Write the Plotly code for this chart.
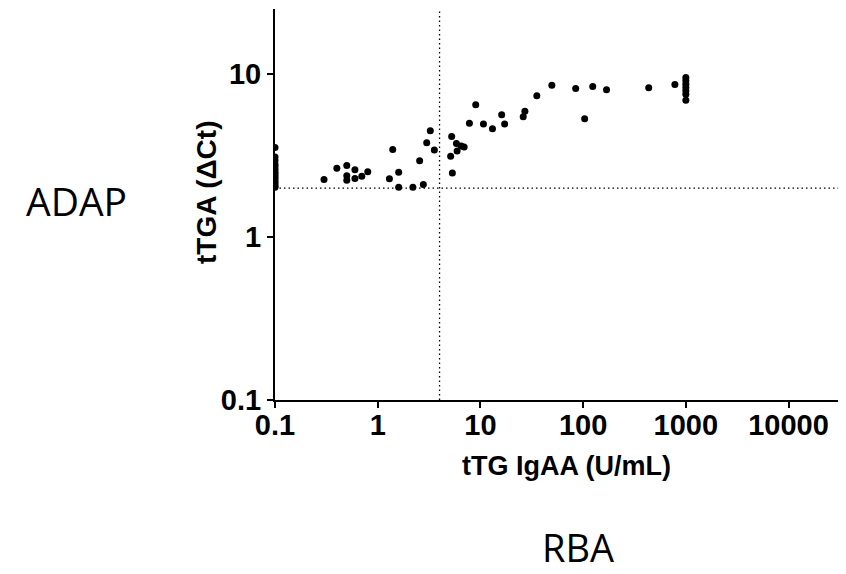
import plotly.graph_objects as go

# tTG IgAA (U/mL) values and tTGA (ΔCt) values
ttg_iga = [0.1, 0.1, 0.1, 0.1, 0.1, 0.1, 0.1, 0.1, 0.1, 0.1, 0.1, 0.1, 0.1, 0.1,
           0.3, 0.4, 0.5, 0.5, 0.5, 0.6, 0.6, 0.7, 0.8, 1.3, 1.4, 1.6, 1.6, 2.2,
           2.56, 2.78, 3.0, 3.25, 3.56, 5.25, 5.13, 5.33, 5.84, 5.93, 6.49, 6.94,
           7.81, 9.0, 10.7, 13.1, 16.1, 17.2, 26.1, 27.1, 35.4, 49.6, 84.6, 103.5,
           124, 169, 435, 782, 1000, 1000, 1000, 1000, 1000, 1000, 1000]
ttga_dct = [3.55, 3.1, 2.95, 2.8, 2.7, 2.6, 2.5, 2.42, 2.35, 2.28, 2.2, 2.13, 2.06, 2.02,
            2.26, 2.65, 2.75, 2.38, 2.23, 2.59, 2.29, 2.36, 2.52, 2.28, 3.45, 2.5, 2.02, 2.02,
            2.94, 2.1, 3.79, 4.49, 3.42, 4.15, 3.13, 2.47, 3.76, 3.37, 3.62, 3.57,
            5.0, 6.48, 4.94, 4.62, 5.63, 4.94, 5.47, 5.93, 7.36, 8.56, 8.17, 5.32,
            8.41, 8.01, 8.24, 8.65, 9.55, 9.1, 8.68, 8.29, 7.9, 7.54, 6.92]

x_cutoff = 4
y_cutoff = 2

x_range_log = [-1, 4.53]
y_range_log = [-1, 1.4]

x_tickvals = [0.1, 1, 10, 100, 1000, 10000]
x_ticktext = ["0.1", "1", "10", "100", "1000", "10000"]
y_tickvals = [0.1, 1, 10]
y_ticktext = ["0.1", "1", "10"]

x_title = "tTG IgAA (U/mL)"
y_title = "tTGA (ΔCt)"
left_label = "ADAP"
bottom_label = "RBA"

axis_font = dict(family="Liberation Sans, Arial, sans-serif", size=29, color="black")
title_font = dict(family="Liberation Sans, Arial, sans-serif", size=27, color="black")
ytitle_font = dict(family="Liberation Sans, Arial, sans-serif", size=28, color="black")
label_font = dict(family="Open Sans, sans-serif", size=39, color="black")
bottom_label_font = dict(family="Open Sans, sans-serif", size=38, color="black")

fig = go.Figure()

# reference lines
fig.add_trace(go.Scatter(
    x=[x_cutoff, x_cutoff], y=[10 ** y_range_log[0], 10 ** y_range_log[1]],
    mode="lines", line=dict(color="black", width=1.3, dash="1.5px,3px"),
    hoverinfo="skip", showlegend=False))
fig.add_trace(go.Scatter(
    x=[10 ** x_range_log[0], 10 ** x_range_log[1]], y=[y_cutoff, y_cutoff],
    mode="lines", line=dict(color="black", width=1.3, dash="1.5px,3px"),
    hoverinfo="skip", showlegend=False))

fig.add_trace(go.Scatter(
    x=ttg_iga, y=ttga_dct, mode="markers",
    marker=dict(color="black", size=7),
    cliponaxis=True, showlegend=False))

fig.update_xaxes(
    type="log", range=x_range_log,
    tickvals=x_tickvals, ticktext=["<b>%s</b>" % t for t in x_ticktext],
    showgrid=False, zeroline=False,
    showline=True, linecolor="black", linewidth=2,
    ticks="outside", ticklen=6, tickwidth=2, tickcolor="black",
    tickfont=axis_font, tickangle=0, ticklabelstandoff=-8)
fig.update_yaxes(
    type="log", range=y_range_log,
    tickvals=y_tickvals, ticktext=["<b>%s</b>" % t for t in y_ticktext],
    showgrid=False, zeroline=False,
    showline=True, linecolor="black", linewidth=2,
    ticks="outside", ticklen=6, tickwidth=2, tickcolor="black",
    tickfont=axis_font)

annotations = [
    dict(text="<b>%s</b>" % x_title, x=0.514, y=-0.169, xref="paper", yref="paper",
         showarrow=False, font=title_font, xanchor="center", yanchor="middle"),
    dict(text="<b>%s</b>" % y_title, x=-0.1197, y=0.532, xref="paper", yref="paper",
         showarrow=False, font=ytitle_font, textangle=-90, xanchor="center", yanchor="middle"),
    dict(text=left_label, x=-0.350, y=0.509, xref="paper", yref="paper",
         showarrow=False, font=label_font, xanchor="center", yanchor="middle"),
    dict(text=bottom_label, x=0.533, y=-0.3755, xref="paper", yref="paper",
         showarrow=False, font=bottom_label_font, xanchor="center", yanchor="middle"),
]

# page body has an 8px margin, so the figure is offset by 8px
fig.update_layout(
    width=838, height=566,
    margin=dict(l=267, r=3, t=1, b=174),
    plot_bgcolor="white", paper_bgcolor="white",
    annotations=annotations,
    font=dict(family="Liberation Sans, Arial, sans-serif", color="black"),
)

fig.write_html("out.html")
